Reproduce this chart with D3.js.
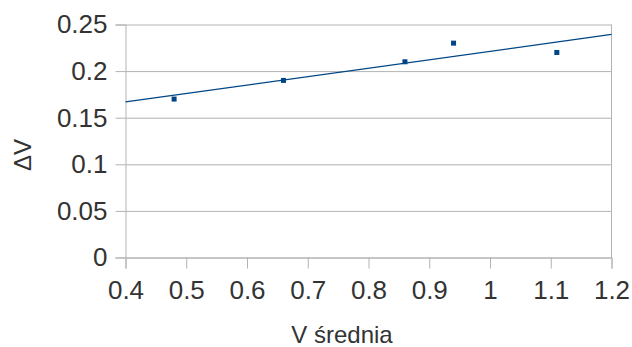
<!DOCTYPE html>
<html>
<head>
<meta charset="utf-8">
<script src="https://cdn.jsdelivr.net/npm/d3@7"></script>
<style>
  html, body { margin: 0; padding: 0; background: #fff; }
  svg { display: block; font-family: "Liberation Sans", Arial, sans-serif; }
</style>
</head>
<body>
<svg id="chart" width="632" height="347"></svg>
<script>
// Measured points: mean voltage vs. voltage difference
const vSrednia = [0.48, 0.66, 0.86, 0.94, 1.11];
const deltaV   = [0.17, 0.19, 0.21, 0.23, 0.22];
const xTicks = [0.4, 0.5, 0.6, 0.7, 0.8, 0.9, 1.0, 1.1, 1.2];
const yTicks = [0, 0.05, 0.1, 0.15, 0.2, 0.25];
const xTitle = "V średnia";
const yTitle = "ΔV";

const W = 632, H = 347;
const margin = { left: 125.5, right: 20.5, top: 24.5, bottom: 89.5 };
const svg = d3.select("#chart");

const x = d3.scaleLinear().domain([0.4, 1.2]).range([margin.left, W - margin.right]);
const y = d3.scaleLinear().domain([0, 0.25]).range([H - margin.bottom, margin.top]);

const grid = "#b3b3b3";
const textCol = "#333333";
const markCol = "#004586";
const fmt = d => String(+d.toFixed(2));

// horizontal grid lines with tick stubs on the left
const yAxis = svg.append("g")
  .attr("transform", `translate(${margin.left},0)`)
  .call(d3.axisLeft(y).tickValues(yTicks).tickFormat(fmt)
        .tickSize(10).tickPadding(8));
yAxis.select(".domain").attr("stroke", grid);
yAxis.selectAll(".tick line").attr("stroke", grid);
yAxis.selectAll(".tick text").attr("fill", textCol).style("font-size", "26px");
yAxis.selectAll(".tick").append("line")
  .attr("x1", 0).attr("x2", x(1.2) - margin.left)
  .attr("stroke", grid);

// bottom axis with downward ticks
const xAxis = svg.append("g")
  .attr("transform", `translate(0,${y(0)})`)
  .call(d3.axisBottom(x).tickValues(xTicks).tickFormat(fmt)
        .tickSize(11).tickSizeOuter(11).tickPadding(12));
xAxis.select(".domain").attr("stroke", grid);
xAxis.selectAll(".tick line").attr("stroke", grid);
xAxis.selectAll(".tick text").attr("fill", textCol).style("font-size", "26px");

// right border of the plot area
svg.append("line")
  .attr("x1", x(1.2)).attr("x2", x(1.2))
  .attr("y1", y(0.25)).attr("y2", y(0))
  .attr("stroke", grid);

// least-squares trend line across the full x range
const mx = d3.mean(vSrednia), my = d3.mean(deltaV);
const sxy = d3.sum(vSrednia, (v, i) => (v - mx) * (deltaV[i] - my));
const sxx = d3.sum(vSrednia, v => (v - mx) ** 2);
const slope = sxy / sxx, icpt = my - slope * mx;
const xd = x.domain();
svg.append("line")
  .attr("x1", x(xd[0])).attr("y1", y(icpt + slope * xd[0]))
  .attr("x2", x(xd[1])).attr("y2", y(icpt + slope * xd[1]))
  .attr("stroke", markCol).attr("stroke-width", 1.2);

// data markers
const s = 5;
svg.append("g").selectAll("rect")
  .data(vSrednia.map((v, i) => [v, deltaV[i]]))
  .join("rect")
  .attr("x", d => x(d[0]) - s / 2).attr("y", d => y(d[1]) - s / 2)
  .attr("width", s).attr("height", s)
  .attr("fill", markCol);

// axis titles
svg.append("text")
  .attr("x", 342).attr("y", 343)
  .attr("text-anchor", "middle").attr("fill", textCol)
  .style("font-size", "24px").text(xTitle);
svg.append("text")
  .attr("transform", "translate(31,155) rotate(-90)")
  .attr("text-anchor", "middle").attr("fill", textCol)
  .style("font-size", "24px").text(yTitle);
</script>
</body>
</html>
